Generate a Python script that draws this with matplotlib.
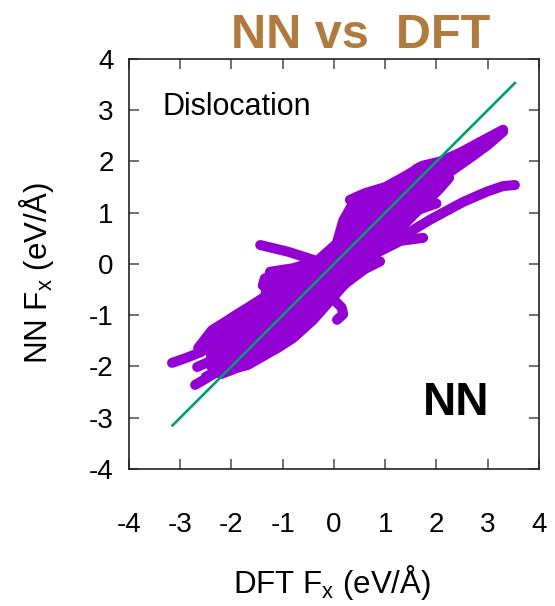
import matplotlib
matplotlib.use('Agg')
from matplotlib import pyplot as plt

plt.rcParams['font.family'] = ['Liberation Sans', 'DejaVu Sans']
plt.rcParams['axes.unicode_minus'] = False

PURPLE = '#9400D3'
GREEN = '#009E73'
TITLE_COLOR = '#B07B3F'

# Dense centre of the force cloud (DFT Fx, NN Fx), outlined
core_x = [-2.4, -2.0, -1.35, -1.25, -0.8, -0.33, 0.05, 0.18, 0.35, 0.6, 1.0, 1.4, 1.65,
          1.9, 2.1, 2.25, 2.05, 1.6, 1.3, 0.9, 0.7, 0.25, -0.1, -0.41, -0.8, -1.11, -1.68,
          -2.2, -2.4]
core_y = [-1.35, -1.05, -0.64, -0.15, -0.08, 0.06, 0.4, 0.85, 1.15, 1.3, 1.45, 1.65, 1.85,
          1.88, 1.82, 1.68, 1.45, 1.0, 0.7, 0.3, 0.0, -0.35, -0.75, -1.1, -1.45, -1.65, -1.95,
          -2.15, -2.0]

# Individual trajectories sticking out of the cloud
left_arm = [(-3.16, -1.93), (-2.85, -1.82), (-2.6, -1.72), (-2.2, -1.45), (-1.7, -1.15),
            (-1.2, -0.8), (-0.6, -0.4), (0.0, 0.0)]
upper_left_edge = [(-2.65, -1.64), (-2.38, -1.29), (-1.99, -1.05), (-1.55, -0.78),
                   (-1.15, -0.51), (-0.6, -0.25), (0.0, 0.15)]
lower_finger_1 = [(-2.67, -2.01), (-2.2, -1.8), (-1.6, -1.45), (-1.0, -1.05), (-0.4, -0.55),
                  (0.2, -0.1)]
lower_finger_2 = [(-2.71, -2.36), (-2.32, -2.13), (-1.68, -1.97), (-1.35, -1.78),
                  (-0.76, -1.4), (-0.35, -0.95)]
lower_finger_3 = [(-2.5, -2.2), (-2.0, -1.95), (-1.3, -1.55), (-0.6, -1.05), (0.0, -0.55),
                  (0.6, -0.1), (0.9, 0.05)]
upper_long = [(-1.0, -0.75), (-0.3, -0.2), (0.4, 0.4), (1.0, 0.9), (1.6, 1.3), (2.2, 1.75),
              (2.7, 2.1), (3.0, 2.32), (3.3, 2.58)]
upper_wedge_top = [(1.6, 1.85), (1.74, 1.92), (2.07, 2.0), (2.46, 2.17), (2.98, 2.45),
                   (3.3, 2.62)]
upper_wedge_mid = [(1.2, 1.45), (1.8, 1.7), (2.3, 1.95), (2.8, 2.25), (3.1, 2.42)]
upper_left_branch = [(0.31, 1.25), (0.6, 1.38), (1.0, 1.5), (1.4, 1.72), (1.7, 1.9),
                     (1.95, 1.95)]
middle_stub = [(0.9, 0.65), (1.48, 1.0), (2.0, 1.18)]
lower_branch = [(-0.5, -0.7), (0.3, -0.15), (0.9, 0.3), (1.39, 0.57), (1.87, 0.86),
                (2.52, 1.21), (2.98, 1.41), (3.3, 1.52), (3.53, 1.54)]
short_stub = [(0.8, 0.2), (1.3, 0.45), (1.74, 0.51)]
stray = [(-1.44, 0.37), (-0.9, 0.24), (-0.4, 0.08)]
loop_left = [(-0.7, -0.3), (-1.1, -0.25), (-1.35, -0.28), (-1.39, -0.42), (-1.2, -0.52),
             (-0.9, -0.5)]
hook = [(-0.3, -0.55), (0.0, -0.7), (0.15, -0.85), (0.18, -0.98), (0.06, -1.09)]

traces = [left_arm, upper_left_edge, lower_finger_1, lower_finger_2, lower_finger_3,
          upper_long, upper_wedge_top, upper_wedge_mid, upper_left_branch, middle_stub,
          lower_branch, short_stub, stray, loop_left, hook]

# y = x reference over the DFT force range
diag_range = [-3.15, 3.53]

ticks = [-4, -3, -2, -1, 0, 1, 2, 3, 4]


def main():
    fig = plt.figure(figsize=(5.55, 6.06), dpi=100)
    ax = fig.add_axes([0.2324, 0.2261, 0.7387, 0.6766])

    ax.fill(core_x, core_y, color=PURPLE, lw=7, joinstyle='round', zorder=2)
    for tr in traces:
        xs = [p[0] for p in tr]
        ys = [p[1] for p in tr]
        ax.plot(xs, ys, color=PURPLE, lw=7.2, solid_capstyle='round',
                solid_joinstyle='round', zorder=2)

    ax.plot(diag_range, diag_range, color=GREEN, lw=1.9, zorder=3)

    ax.set_xlim(-4, 4)
    ax.set_ylim(-4, 4)
    ax.set_xticks(ticks)
    ax.set_yticks(ticks)
    ax.set_xticklabels([str(t) for t in ticks])
    ax.set_yticklabels([str(t) for t in ticks])
    ax.tick_params(axis='both', direction='in', length=7, width=1.3, color='#666666',
                   top=True, right=True, labelsize=20)
    ax.tick_params(axis='x', pad=31)
    ax.tick_params(axis='y', pad=11)
    for sp in ax.spines.values():
        sp.set_color('#222222')
        sp.set_linewidth(1.2)

    ax.set_xlabel(r'DFT F$_\mathregular{x}$ (eV/Å)', fontsize=22.5)
    ax.set_ylabel(r'NN F$_\mathregular{x}$ (eV/Å)', fontsize=22.5)
    ax.xaxis.set_label_coords(0.495, -0.229)
    ax.yaxis.set_label_coords(-0.178, 0.478)

    ax.text(-3.34, 2.91, 'Dislocation', fontsize=22, va='baseline', ha='left')
    ax.text(1.74, -2.95, 'NN', fontsize=33, fontweight='bold', va='baseline', ha='left')

    fig.text(0.650, 0.921, 'NN vs  DFT', fontsize=35, fontweight='bold',
             color=TITLE_COLOR, ha='center', va='baseline')

    fig.savefig('out.png', dpi=100)


if __name__ == '__main__':
    main()
